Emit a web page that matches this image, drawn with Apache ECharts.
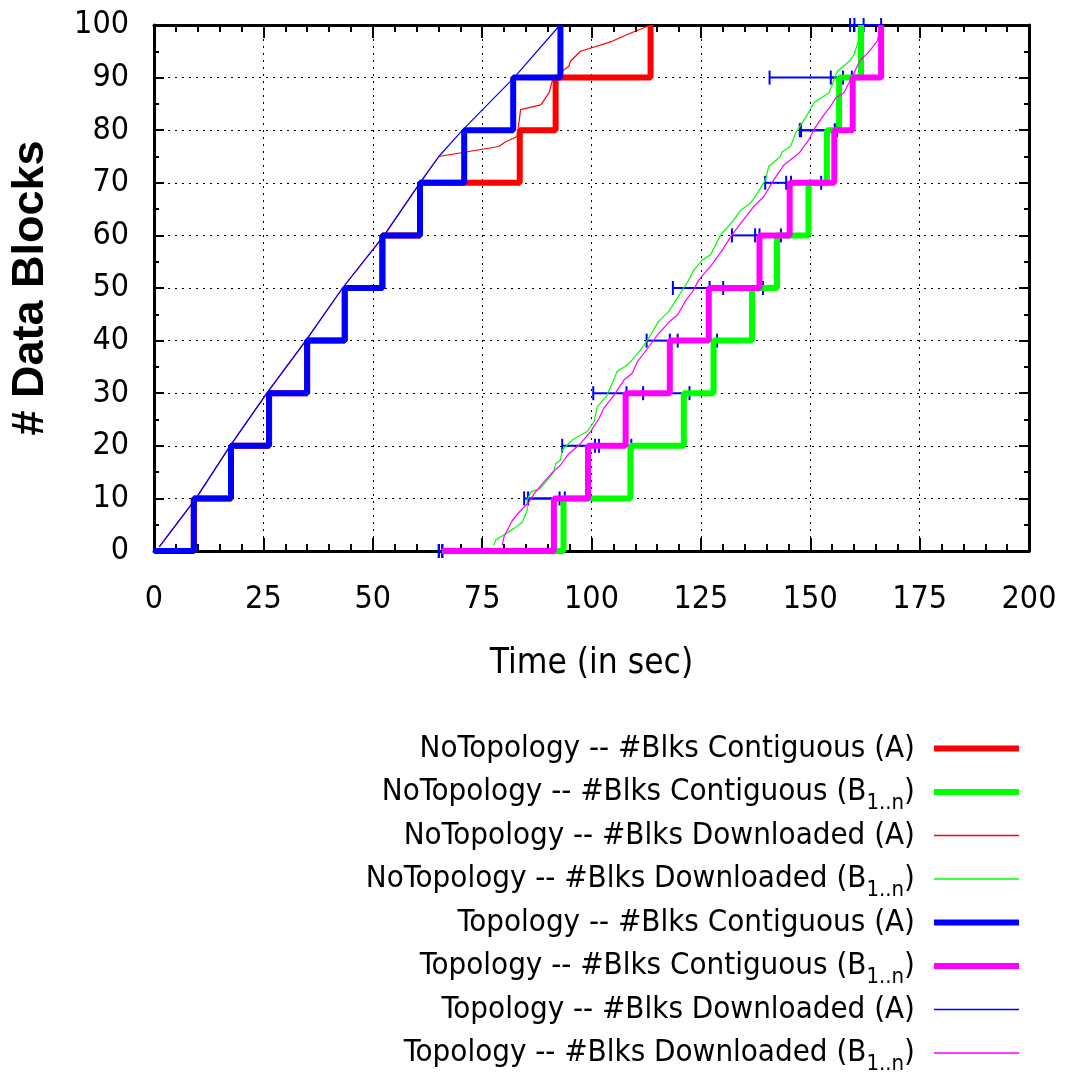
<!DOCTYPE html>
<html>
<head>
<meta charset="utf-8">
<script src="https://cdn.jsdelivr.net/npm/echarts@6/dist/echarts.min.js"></script>
<style>
  html, body { margin: 0; padding: 0; background: #fff; }
  #chart { width: 1066px; height: 1076px; }
</style>
</head>
<body>
<div id="chart"></div>
<script>
// contiguous blocks: time at which each level of blocks is reached
const levels = [0, 10, 20, 30, 40, 50, 60, 70, 80, 90, 100];
const noTopoContigA = [0, 9.1, 17.6, 26.3, 35.0, 43.6, 52.2, 60.8, 83.6, 91.8, 113.5];
const noTopoContigB = [65.9, 93.6, 108.9, 121.1, 127.9, 136.7, 142.4, 149.6, 153.8, 156.6, 161.6];
const topoContigA = [0, 9.1, 17.6, 26.3, 35.0, 43.6, 52.2, 60.8, 70.9, 82.1, 92.9];
const topoContigB = [65.9, 91.4, 99.2, 107.8, 117.9, 126.8, 138.4, 145.3, 155.5, 159.7, 166.2];

// downloaded blocks
const topoDlATime = [1.2, 9.6, 17.4, 25.8, 34.7, 43.1, 52.6, 60.8, 65.1, 70.5, 82.3, 92.8];
const topoDlABlks = [0.8, 10, 20, 30, 40, 50, 60, 70, 75, 80, 90, 100];
const noTopoDlATime = [1.2, 9.6, 17.4, 25.8, 34.7, 43.1, 52.6, 60.8, 65.1, 78.8, 80.4, 83.0, 83.8, 88.4, 90.3, 91.0, 93.7, 94.8, 95.2, 97.5, 104.7, 108.2, 113.5];
const noTopoDlABlks = [0.8, 10, 20, 30, 40, 50, 60, 70, 75, 76.9, 77.8, 78.8, 83.9, 84.8, 87.1, 89.3, 91.5, 92.1, 93.1, 95.0, 96.9, 98.2, 100];
const noTopoDlBTime = [77.7, 78.1, 82.3, 84.2, 85.3, 85.3, 86.1, 88.3, 89.5, 91.4, 91.8, 92.9, 93.3, 95.6, 99.0, 100.6, 101.3, 102.4, 103.5, 105.1, 105.8, 108.1, 109.6, 111.5, 113.0, 115.3, 117.6, 119.1, 120.3, 121.8, 123.4, 125.3, 127.2, 129.5, 132.5, 134.1, 136.3, 137.9, 139.8, 140.5, 143.2, 143.6, 145.5, 146.6, 149.3, 150.8, 154.3, 156.2, 158.9, 160.0, 161.2, 161.8];
const noTopoDlBBlks = [1.1, 2.1, 4.3, 5.5, 7.7, 9.6, 11.2, 11.9, 13.1, 15.0, 16.6, 17.3, 19.2, 21.1, 22.7, 24.6, 27.4, 28.4, 29.6, 32.5, 34.1, 35.3, 36.6, 38.5, 40.4, 43.6, 45.5, 47.4, 49.0, 50.9, 53.4, 55.3, 56.3, 60.1, 62.9, 64.8, 66.1, 68.0, 70.6, 73.1, 75.0, 75.9, 76.9, 79.4, 82.9, 85.2, 87.1, 91.2, 93.1, 94.3, 97.5, 100];
const topoDlBTime = [79.6, 80.0, 81.9, 83.8, 85.7, 86.9, 88.8, 91.1, 92.9, 94.8, 97.1, 99.8, 101.7, 102.8, 105.1, 107.4, 109.3, 110.5, 112.8, 115.1, 117.8, 119.7, 121.6, 123.1, 124.5, 127.2, 129.9, 132.1, 134.1, 137.1, 139.4, 141.7, 144.0, 147.4, 149.7, 150.8, 153.1, 154.6, 155.8, 157.7, 159.2, 160.0, 161.5, 163.1, 165.3, 166.2];
const topoDlBBlks = [1.1, 2.7, 5.8, 7.7, 9.3, 10.9, 12.8, 15.0, 16.3, 18.5, 20.1, 22.7, 25.2, 27.1, 29.6, 32.5, 33.8, 36.0, 38.5, 41.1, 43.6, 44.9, 47.7, 49.3, 51.5, 54.1, 57.2, 60.1, 62.3, 65.5, 67.4, 70.6, 73.4, 75.6, 78.2, 80.1, 82.9, 84.5, 86.1, 87.1, 89.6, 90.9, 93.4, 94.6, 96.9, 100];

// blue range bars per level (tick positions, sorted)
const errT1 = [65.1, 84.6, 93.3, 100.4, 112.6, 118.6, 132.1, 139.7, 147.6, 140.7, 159.1];
const errT2 = [65.1, 85.5, 100.8, 108.0, 117.9, 127.0, 137.4, 144.5, 147.9, 154.7, 160.1];
const errT3 = [65.9, 92.7, 101.7, 111.8, 119.7, 130.1, 138.4, 145.6, 155.6, 157.5, 162.2];
const errT4 = [65.9, 93.9, 109.1, 122.4, 128.7, 139.2, 143.3, 152.5, 156.1, 159.5, 166.2];

const NARROW = '"Liberation Sans Narrow", "DejaVu Sans Condensed", sans-serif';

function zip(xs, ys) {
  return xs.map((x, i) => [x, ys[i]]);
}

function lineSeries(name, color, width, xs, ys, step) {
  return {
    name: name,
    type: 'line',
    data: zip(xs, ys),
    step: step ? 'end' : false,
    symbol: 'none',
    showSymbol: false,
    lineStyle: { color: color, width: width },
    itemStyle: { color: color },
    animation: false,
    silent: true
  };
}

const errData = [];
levels.forEach((lv, i) => {
  errData.push([errT1[i], errT3[i], lv]);
  errData.push([errT2[i], errT4[i], lv]);
});

const names = [
  'NoTopology -- #Blks Contiguous (A)',
  'NoTopology -- #Blks Contiguous (B1..n)',
  'NoTopology -- #Blks Downloaded (A)',
  'NoTopology -- #Blks Downloaded (B1..n)',
  'Topology -- #Blks Contiguous (A)',
  'Topology -- #Blks Contiguous (B1..n)',
  'Topology -- #Blks Downloaded (A)',
  'Topology -- #Blks Downloaded (B1..n)'
];
const colors = ['#ff0000', '#00ff00', '#ff0000', '#00ff00', '#0000ff', '#ff00ff', '#0000ff', '#ff00ff'];
const widths = [6, 6, 1.5, 1.5, 6, 6, 1.5, 1.5];

const chart = echarts.init(document.getElementById('chart'));

const xAxisBase = {
  type: 'value',
  min: 0,
  max: 200,
  interval: 25,
  axisLine: { show: true, onZero: false, lineStyle: { color: '#000', width: 3 } },
  axisTick: { show: true, inside: true, length: 13, lineStyle: { color: '#000', width: 2 } },
  minorTick: { show: true, splitNumber: 5, length: 7, lineStyle: { color: '#000', width: 2 } }
};
const yAxisBase = {
  type: 'value',
  min: 0,
  max: 100,
  interval: 10,
  axisLine: { show: true, onZero: false, lineStyle: { color: '#000', width: 3 } },
  axisTick: { show: true, inside: true, length: 10, lineStyle: { color: '#000', width: 2 } },
  minorTick: { show: true, splitNumber: 2, length: 5, lineStyle: { color: '#000', width: 2 } }
};

chart.setOption({
  backgroundColor: '#fff',
  animation: false,
  grid: { left: 153, right: 37, top: 25, bottom: 525 },
  xAxis: [
    Object.assign({}, xAxisBase, {
      position: 'bottom',
      name: 'Time (in sec)',
      nameLocation: 'middle',
      nameGap: 95,
      nameTextStyle: { fontFamily: NARROW, fontSize: 35, color: '#000' },
      axisLabel: { margin: 33, fontFamily: NARROW, fontSize: 32, color: '#000' },
      splitLine: { show: true, lineStyle: { color: '#000', width: 1, type: [2, 5] } }
    }),
    Object.assign({}, xAxisBase, {
      position: 'top',
      axisLabel: { show: false },
      splitLine: { show: false }
    })
  ],
  yAxis: [
    Object.assign({}, yAxisBase, {
      position: 'left',
      name: '# Data Blocks',
      nameLocation: 'middle',
      nameGap: 101,
      nameTextStyle: { fontFamily: '"Liberation Sans", Arial, sans-serif', fontWeight: 'bold', fontSize: 45, color: '#000' },
      axisLabel: { margin: 25, fontFamily: NARROW, fontSize: 32, color: '#000' },
      splitLine: { show: true, lineStyle: { color: '#000', width: 1, type: [2, 5] } }
    }),
    Object.assign({}, yAxisBase, {
      position: 'right',
      axisLabel: { show: false },
      splitLine: { show: false }
    })
  ],
  legend: {
    orient: 'vertical',
    align: 'right',
    right: 44,
    top: 727,
    height: 600,
    padding: 0,
    itemGap: 0,
    itemWidth: 85,
    itemHeight: 14,
    selectedMode: false,
    data: names.map((n, i) => ({
      name: n,
      lineStyle: { color: colors[i], width: widths[i], opacity: 1 },
      itemStyle: { opacity: 0 }
    })),
    formatter: function (name) {
      return name.replace('(B1..n)', '(B{s|1..n})');
    },
    textStyle: {
      fontFamily: NARROW,
      fontSize: 31,
      color: '#000',
      lineHeight: 43,
      padding: [0, 14, 0, 0],
      rich: {
        s: { fontFamily: NARROW, fontSize: 22, color: '#000', lineHeight: 43, padding: [22, 0, 0, 0] }
      }
    }
  },
  series: [
    {
      name: 'range',
      type: 'custom',
      data: errData,
      silent: true,
      z: 1,
      renderItem: function (params, api) {
        const a = api.coord([api.value(0), api.value(2)]);
        const b = api.coord([api.value(1), api.value(2)]);
        const h = 7;
        const st = { stroke: '#0000ff', lineWidth: 2 };
        return {
          type: 'group',
          children: [
            { type: 'line', shape: { x1: a[0], y1: a[1], x2: b[0], y2: b[1] }, style: st },
            { type: 'line', shape: { x1: a[0], y1: a[1] - h, x2: a[0], y2: a[1] + h }, style: st },
            { type: 'line', shape: { x1: b[0], y1: b[1] - h, x2: b[0], y2: b[1] + h }, style: st }
          ]
        };
      }
    },
    lineSeries(names[0], colors[0], 6, noTopoContigA, levels, true),
    lineSeries(names[1], colors[1], 6, noTopoContigB, levels, true),
    lineSeries(names[2], colors[2], 1.2, noTopoDlATime, noTopoDlABlks, false),
    lineSeries(names[3], colors[3], 1.2, noTopoDlBTime, noTopoDlBBlks, false),
    lineSeries(names[4], colors[4], 6, topoContigA, levels, true),
    lineSeries(names[5], colors[5], 6, topoContigB, levels, true),
    lineSeries(names[6], colors[6], 1.2, topoDlATime, topoDlABlks, false),
    lineSeries(names[7], colors[7], 1.2, topoDlBTime, topoDlBBlks, false)
  ]
});
</script>
</body>
</html>
